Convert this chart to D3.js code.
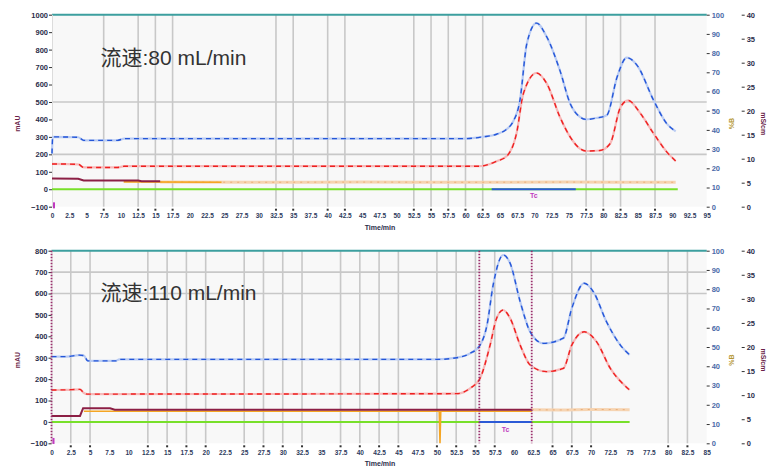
<!DOCTYPE html>
<html>
<head>
<meta charset="utf-8">
<script src="https://cdn.jsdelivr.net/npm/d3@7"></script>
<style>
body { margin: 0; background: #fff; }
svg { display: block; }
</style>
</head>
<body>
<svg width="770" height="466"></svg>
<script>
// ---- run 1: 80 mL/min ----
var t80Blue = [0, 0.1, 3.8, 4.6, 9.5, 10.5, 60, 62.5, 64.5, 66, 66.8, 67.9, 68.9, 70.3, 71.8, 73.7, 75.2, 76.6, 77.5, 79, 80.5, 82, 83.4, 84.9, 87.3, 89.2, 90.5];
var v80Blue = [205, 300, 298, 280, 280, 290, 290, 300, 315, 345, 380, 509, 834, 952, 872, 681, 490, 414, 400, 408, 424, 643, 754, 710, 509, 376, 332];
var t80Red = [0, 3.8, 4.6, 9.5, 10.5, 62, 64.5, 66, 67.4, 68.4, 70.3, 71.8, 73.7, 75.2, 76.6, 77.5, 79.5, 81, 82.5, 83.6, 85.4, 87.3, 89.2, 90.5];
var v80Red = [145, 143, 125, 125, 132, 132, 160, 190, 319, 548, 666, 605, 414, 299, 233, 219, 222, 262, 471, 509, 433, 319, 214, 162];
var t80Cond = [0, 3.8, 4.6, 12.5, 13, 15.7];
var v80Cond = [62, 60, 50, 50, 46, 46];
var t80Orange = [10.4, 24.6];
var v80Orange = [42, 40];
var t80Tan = [15.7, 30, 45, 60, 75, 90.5];
var v80Tan = [42, 40, 41, 40, 41, 40];
var t80Base = [0, 90.8];
var t80Frac = [63.8, 76];
var t80Marks = [];
var grid80X = [7.5, 12.5, 15, 17.5, 32.5, 35, 40, 42.5, 52.5, 55, 57.5, 60, 62.5, 77.5, 80, 82.5, 87.5];
var grid80Y = [500, 200];
var ticks80X = d3.range(0, 95.01, 2.5);
var ticks80Y = [-100, 0, 100, 200, 300, 400, 500, 600, 700, 800, 900, 1000];

// ---- run 2: 110 mL/min ----
var t110Blue = [0, 2, 3.6, 4.2, 4.7, 8.3, 8.8, 50, 52.6, 54.3, 55.6, 56.5, 57.3, 58.6, 59.5, 60.8, 62.1, 63.8, 66.4, 67.5, 69.1, 70.3, 72, 73.8, 75];
var v110Blue = [305, 305, 312, 310, 285, 285, 292, 292, 300, 320, 359, 453, 640, 780, 741, 562, 421, 367, 391, 531, 648, 608, 468, 359, 313];
var t110Red = [0, 2, 3.7, 4.2, 4.7, 52.6, 54.3, 55.6, 56.9, 57.7, 58.6, 59.5, 60.8, 62.1, 64.2, 66.4, 67.5, 69.1, 70.7, 72.5, 75];
var v110Red = [149, 150, 152, 135, 130, 132, 157, 204, 359, 480, 523, 484, 359, 266, 235, 250, 359, 421, 375, 250, 149];
var t110Cond = [0, 3.7, 4.1, 7.6, 8.2, 62.3];
var v110Cond = [28, 28, 64, 64, 57, 57];
var t110Orange = [4.2, 7.6, 50.3, 50.4, 50.5, 62.3];
var v110Orange = [50, 50, 50, -100, 50, 50];
var t110Tan = [62.3, 66, 70, 75];
var v110Tan = [57, 56, 58, 57];
var t110Base = [0, 75];
var t110Frac = [55.5, 62.3];
var t110Marks = [0, 55.5, 62.3];
var grid110X = [2.5, 5, 12.5, 15, 17.5, 20, 25, 27.5, 30, 32.5, 37.5, 40, 42.5, 45, 50, 52.5, 55, 57.5, 65, 67.5, 70, 80, 82.5];
var grid110Y = [700, 600];
var ticks110X = d3.range(0, 85.01, 2.5);
var ticks110Y = [-100, 0, 100, 200, 300, 400, 500, 600, 700, 800];

var ticksPctB = [0, 10, 20, 30, 40, 50, 60, 70, 80, 90, 100];
var ticksCond = [0, 5, 10, 15, 20, 25, 30, 35, 40];

var svg = d3.select('svg');
var tickFont = '"Liberation Sans", Arial, sans-serif';
var plain = d3.format('');

function zip(ts, vs) {
    return ts.map(function (t, i) { return [t, vs[i]]; });
}

function drawPanel(p) {
    var g = svg.append('g');
    var x = d3.scaleLinear().domain([0, p.xMax]).range([p.left, p.right]);
    var y = d3.scaleLinear().domain([-100, p.yMax]).range([p.bottom, p.top]);
    var yB = d3.scaleLinear().domain([0, 100]).range([p.bottom, p.top]);
    var yC = d3.scaleLinear().domain([0, 40]).range([p.bottom, p.top]);

    g.append('rect')
        .attr('x', p.left).attr('y', p.top)
        .attr('width', p.right - p.left).attr('height', p.bottom - p.top)
        .attr('fill', '#f8f8f8');

    // grid
    g.selectAll('line.hg').data(p.gridY).enter().append('line')
        .attr('x1', p.left).attr('x2', p.right)
        .attr('y1', function (d) { return y(d); }).attr('y2', function (d) { return y(d); })
        .attr('stroke', '#c8c8c8').attr('stroke-width', 1.6);
    g.selectAll('line.vg').data(p.gridX).enter().append('line')
        .attr('x1', function (d) { return x(d); }).attr('x2', function (d) { return x(d); })
        .attr('y1', p.top).attr('y2', p.bottom)
        .attr('stroke', '#c8c8c8').attr('stroke-width', 1.6);
    g.selectAll('rect.vt').data(p.gridX).enter().append('rect')
        .attr('x', function (d) { return x(d) - 1; }).attr('y', p.bottom + 2)
        .attr('width', 2).attr('height', 2).attr('fill', '#333');

    // top border
    g.append('line')
        .attr('x1', p.left).attr('x2', p.right)
        .attr('y1', p.top).attr('y2', p.top)
        .attr('stroke', '#3c9f9f').attr('stroke-width', 2);

    // axes
    var ax = g.append('g')
        .attr('transform', 'translate(0,' + p.bottom + ')')
        .call(d3.axisBottom(x).tickValues(p.ticksX).tickSize(0).tickPadding(7).tickFormat(plain));
    ax.select('.domain').remove();
    ax.selectAll('text').attr('fill', '#2d3a5c').style('font', '600 6.5px ' + tickFont);

    var ay = g.append('g')
        .attr('transform', 'translate(' + p.left + ',0)')
        .call(d3.axisLeft(y).tickValues(p.ticksY).tickSize(3).tickPadding(1).tickFormat(plain));
    ay.select('.domain').attr('stroke', '#dcdcdc');
    ay.selectAll('.tick line').attr('stroke', '#333');
    ay.selectAll('text').attr('fill', '#2b2d4a').style('font', 'bold 7.5px ' + tickFont);

    var ab = g.append('g')
        .attr('transform', 'translate(' + p.right + ',0)')
        .call(d3.axisRight(yB).tickValues(ticksPctB).tickSize(3).tickPadding(2).tickFormat(plain));
    ab.select('.domain').remove();
    ab.selectAll('.tick line').attr('stroke', '#333');
    ab.selectAll('text').attr('fill', '#4b6aa8').style('font', 'bold 7.5px ' + tickFont);

    var ac = g.append('g')
        .attr('transform', 'translate(' + (p.right + 35) + ',0)')
        .call(d3.axisRight(yC).tickValues(ticksCond).tickSize(3).tickPadding(2).tickFormat(plain));
    ac.select('.domain').remove();
    ac.selectAll('.tick line').attr('stroke', '#333');
    ac.selectAll('text').attr('fill', '#2b2d4a').style('font', 'bold 7.5px ' + tickFont);

    // axis titles
    var midY = (p.top + p.bottom) / 2 + 13;
    g.append('text').text('mAU')
        .attr('transform', 'translate(20,' + midY + ') rotate(-90)')
        .attr('text-anchor', 'middle').attr('fill', '#6b1f4a')
        .style('font', 'bold 7px ' + tickFont);
    g.append('text').text('%B')
        .attr('transform', 'translate(734,' + midY + ') rotate(-90)')
        .attr('text-anchor', 'middle').attr('fill', '#b49632')
        .style('font', 'bold 7px ' + tickFont);
    g.append('text').text('mS/cm')
        .attr('transform', 'translate(761,' + midY + ') rotate(90)')
        .attr('text-anchor', 'middle').attr('fill', '#6b1f4a')
        .style('font', 'bold 7px ' + tickFont);
    g.append('text').text('Time/min')
        .attr('x', 380).attr('y', p.bottom + 23)
        .attr('text-anchor', 'middle').attr('fill', '#2b2d4a')
        .style('font', 'bold 7px ' + tickFont);

    var smooth = d3.line()
        .x(function (d) { return x(d[0]); })
        .y(function (d) { return y(d[1]); })
        .curve(d3.curveMonotoneX);
    var straight = d3.line()
        .x(function (d) { return x(d[0]); })
        .y(function (d) { return y(d[1]); });

    // baseline (green) and fraction window (blue)
    g.append('path').attr('d', straight([[p.base[0], 0], [p.base[1], 0]]))
        .attr('fill', 'none').attr('stroke', '#78e02a').attr('stroke-width', 2);
    g.append('path').attr('d', straight([[p.frac[0], 0], [p.frac[1], 0]]))
        .attr('fill', 'none').attr('stroke', '#2c5ad6').attr('stroke-width', 2);

    // tan noisy trace
    g.append('path').attr('d', smooth(p.tan))
        .attr('fill', 'none').attr('stroke', '#f6d4b2').attr('stroke-width', 3);
    g.append('path').attr('d', smooth(p.tan))
        .attr('fill', 'none').attr('stroke', '#eaae7a').attr('stroke-width', 1)
        .attr('stroke-dasharray', '2,5');

    g.append('path').attr('d', straight(p.orange))
        .attr('fill', 'none').attr('stroke', '#f5a523').attr('stroke-width', 1.6);
    g.append('path').attr('d', straight(p.cond))
        .attr('fill', 'none').attr('stroke', '#8c1f45').attr('stroke-width', 2);

    // UV traces: light underlay + dashed dark overlay
    [[p.red, '#f7b9b9', '#ee2020'], [p.blue, '#b9cbf3', '#2456d8']].forEach(function (s) {
        g.append('path').attr('d', smooth(s[0]))
            .attr('fill', 'none').attr('stroke', s[1]).attr('stroke-width', 2.2);
        g.append('path').attr('d', smooth(s[0]))
            .attr('fill', 'none').attr('stroke', s[2]).attr('stroke-width', 1.4)
            .attr('stroke-dasharray', '5,4');
    });

    // event marks
    g.selectAll('line.mk').data(p.marks).enter().append('line')
        .attr('x1', function (d) { return x(d); }).attr('x2', function (d) { return x(d); })
        .attr('y1', p.top).attr('y2', p.bottom)
        .attr('stroke', '#9a2f6c').attr('stroke-width', 1.8)
        .attr('stroke-dasharray', '1.5,1.5');

    g.append('text').text('Tc')
        .attr('x', x((p.frac[0] + p.frac[1]) / 2)).attr('y', y(-48))
        .attr('text-anchor', 'middle').attr('fill', '#c03ac0')
        .style('font', 'bold 7px ' + tickFont);
    g.append('rect')
        .attr('x', p.left + 1).attr('y', y(-75)).attr('width', 2).attr('height', 6)
        .attr('fill', '#c03ac0');

    g.append('text').text(p.title)
        .attr('x', 100.5).attr('y', p.titleY)
        .attr('fill', '#333')
        .style('font', '21px "Liberation Sans", "Noto Sans CJK SC", sans-serif');
}

drawPanel({
    left: 52, right: 706.7, top: 14.7, bottom: 206.7,
    xMax: 95, yMax: 1000,
    gridX: grid80X, gridY: grid80Y, ticksX: ticks80X, ticksY: ticks80Y,
    blue: zip(t80Blue, v80Blue), red: zip(t80Red, v80Red),
    cond: zip(t80Cond, v80Cond), orange: zip(t80Orange, v80Orange), tan: zip(t80Tan, v80Tan),
    base: t80Base, frac: t80Frac, marks: t80Marks,
    title: '流速:80 mL/min', titleY: 65
});

drawPanel({
    left: 51.5, right: 706.7, top: 250.7, bottom: 443.3,
    xMax: 85, yMax: 800,
    gridX: grid110X, gridY: grid110Y, ticksX: ticks110X, ticksY: ticks110Y,
    blue: zip(t110Blue, v110Blue), red: zip(t110Red, v110Red),
    cond: zip(t110Cond, v110Cond), orange: zip(t110Orange, v110Orange), tan: zip(t110Tan, v110Tan),
    base: t110Base, frac: t110Frac, marks: t110Marks,
    title: '流速:110 mL/min', titleY: 300
});
</script>
</body>
</html>
